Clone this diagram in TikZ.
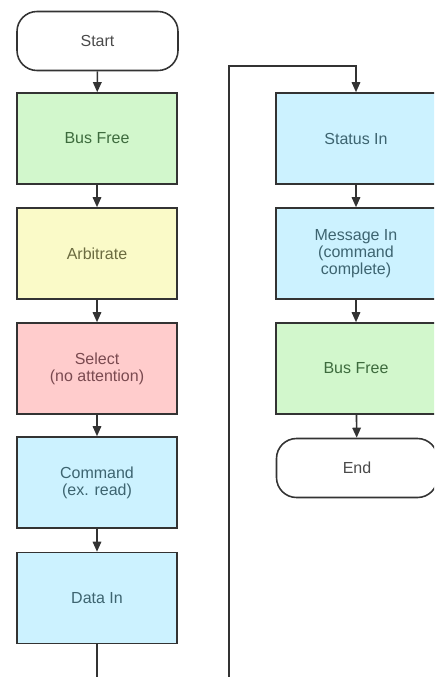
\documentclass[tikz,border=0pt]{standalone}
\usepackage{fontspec}
\setmainfont{Liberation Sans}
\usetikzlibrary{arrows.meta}
\definecolor{edgegray}{HTML}{333333}
\definecolor{greenfill}{HTML}{D2F7CC}
\definecolor{greentext}{HTML}{3D6B3D}
\definecolor{yellowfill}{HTML}{FAFAC8}
\definecolor{yellowtext}{HTML}{6B6B40}
\definecolor{redfill}{HTML}{FFCCCC}
\definecolor{redtext}{HTML}{7A4A50}
\definecolor{bluefill}{HTML}{CCF2FF}
\definecolor{bluetext}{HTML}{3D6470}
\definecolor{termtext}{HTML}{4A4A4A}
\begin{document}
\begin{tikzpicture}[x=1cm,y=1cm,
  font=\fontsize{9.1}{9.8}\selectfont,
  phase/.style={draw=edgegray, line width=0.9pt, align=center, minimum width=3.2cm, minimum height=1.82cm},
  term/.style={draw=edgegray, line width=0.9pt, rounded corners=0.4cm, align=center, minimum width=3.22cm, minimum height=1.18cm, text=termtext},
  flow/.style={draw=edgegray, line width=0.9pt, -{Triangle[length=0.2cm,width=0.17cm]}}]
\useasboundingbox (0,0) rectangle (8.68,-13.54);
\clip (0,0) rectangle (8.68,-13.54);
% left column
\node[term] (start) at (1.95,-0.82) {Start};
\node[phase, fill=greenfill, text=greentext] (busfree) at (1.94,-2.77) {Bus Free};
\node[phase, fill=yellowfill, text=yellowtext] (arbitrate) at (1.94,-5.07) {Arbitrate};
\node[phase, fill=redfill, text=redtext] (select) at (1.94,-7.37) {Select\\(no attention)};
\node[phase, fill=bluefill, text=bluetext] (command) at (1.94,-9.65) {Command\\(ex. read)};
\node[phase, fill=bluefill, text=bluetext] (datain) at (1.94,-11.96) {Data In};
% right column
\node[phase, fill=bluefill, text=bluetext] (statusin) at (7.12,-2.77) {Status In};
\node[phase, fill=bluefill, text=bluetext] (msgin) at (7.12,-5.07) {Message In\\(command\\complete)};
\node[phase, fill=greenfill, text=greentext] (busfreeb) at (7.12,-7.37) {Bus Free};
\node[term] (stop) at (7.14,-9.36) {End};
\draw[flow] (start) -- (busfree);
\draw[flow] (busfree) -- (arbitrate);
\draw[flow] (arbitrate) -- (select);
\draw[flow] (select) -- (command);
\draw[flow] (command) -- (datain);
\draw[flow] (statusin) -- (msgin);
\draw[flow] (msgin) -- (busfreeb);
\draw[flow] (busfreeb) -- (stop);
% page turn: leaves at the bottom, comes back up the middle
\coordinate (loopbot) at (4.58,-14.0);
\coordinate (looptop) at (4.58,-1.32);
\draw[flow] (datain.south) |- (loopbot) -- (looptop) -| (statusin.north);
\end{tikzpicture}
\end{document}
